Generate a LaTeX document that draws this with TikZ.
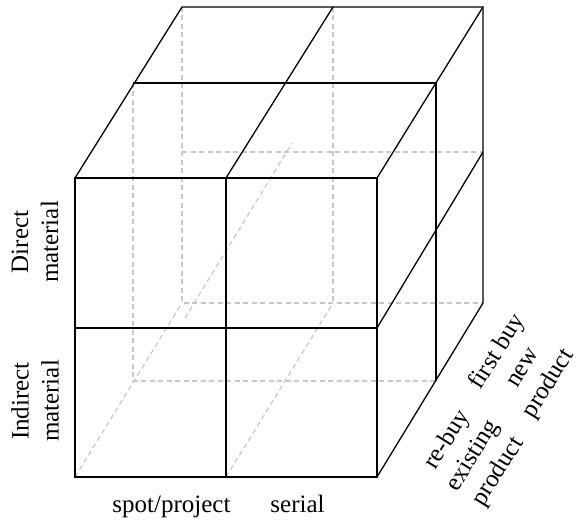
\documentclass[tikz,border=0pt]{standalone}
\usepackage{fontspec}
\setmainfont{Liberation Serif}
\definecolor{hidden}{RGB}{200,200,200}
\begin{document}
\begin{tikzpicture}[x=1pt,y=-1pt,
  hiddenline/.style={draw=hidden,line width=1.2pt,dash pattern=on 5pt off 3.5pt},
  edge/.style={draw=black,line width=1.3pt,line join=miter},
  frontedge/.style={draw=black,line width=2.1pt,line join=miter},
  lbl/.style={font=\fontsize{25}{30}\selectfont,align=center,inner sep=0pt}]
\useasboundingbox (0,0) rectangle (577,521);
% front face
\coordinate (FTL) at (75,178);  \coordinate (FTR) at (377,178);
\coordinate (FBL) at (75,477);  \coordinate (FBR) at (377,477);
\coordinate (FTM) at (226,178); \coordinate (FBM) at (226,477);
\coordinate (FML) at (75,328);  \coordinate (FMR) at (377,328);
% middle layer
\coordinate (MTL) at (133,83);  \coordinate (MTR) at (436,83);
\coordinate (MBL) at (133,381); \coordinate (MBR) at (436,381);
% back face
\coordinate (BTL) at (182,7);   \coordinate (BTR) at (483,7);
\coordinate (BBL) at (182,303); \coordinate (BBR) at (483,303);
\coordinate (BTM) at (333,7);   \coordinate (BBM) at (333,303);
\coordinate (BML) at (182,152); \coordinate (BMR) at (483,152);
\coordinate (XA) at (185,318);  \coordinate (XB) at (292,143);
% hidden lines
\draw[hiddenline] (BTL) -- (BBL) -- (BBR);
\draw[hiddenline] (BTM) -- (BBM);
\draw[hiddenline] (BML) -- (BMR);
\draw[hiddenline] (MTL) -- (MBL) -- (MBR);
\draw[hiddenline] (FBL) -- (BBL);
\draw[hiddenline] (FBM) -- (BBM);
\draw[hiddenline] (XA) -- (XB);
% visible edges
\draw[edge] (FTL) -- (BTL) -- (BTR) -- (BBR) -- (FBR);
\draw[edge] (FTM) -- (BTM);
\draw[edge] (FTR) -- (BTR);
\draw[edge] (MTL) -- (MTR) -- (MBR);
\draw[edge] (FMR) -- (BMR);
% front face
\draw[frontedge] (FTL) rectangle (FBR);
\draw[frontedge] (FTM) -- (FBM);
\draw[frontedge] (FML) -- (FMR);
% labels
\node[lbl,rotate=90] (direct) at (35,242) {Direct\\material};
\node[lbl,rotate=90] (indirect) at (35,401) {Indirect\\material};
\node[lbl,anchor=base] (spot) at (171.5,512) {spot/project};
\node[lbl,anchor=base] (serial) at (297.5,512) {serial};
\node[lbl,rotate=58] (first) at (523,368) {first buy\\new\\product};
\node[lbl,rotate=58] (rebuy) at (473,456) {re-buy\\existing\\product};
\end{tikzpicture}
\end{document}
